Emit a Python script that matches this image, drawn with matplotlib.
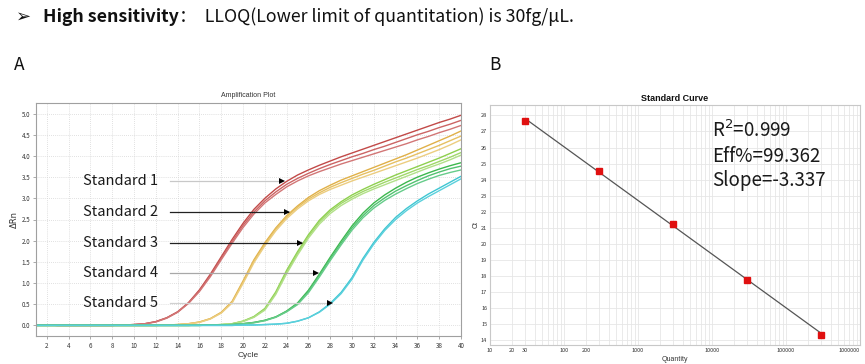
import numpy as np
import matplotlib
matplotlib.use("Agg")
import matplotlib.pyplot as plt
from matplotlib.ticker import FixedLocator, NullFormatter, LogLocator

plt.rcParams['font.family'] = ['Noto Sans CJK SC', 'DejaVu Sans']

# ---------------- data ----------------
cycles = list(range(1, 41))

s1_a = [0.01,0.01,0.0,0.0,0.0,0.0,0.0,0.0,0.01,0.02,0.04,0.09,0.18,0.32,0.54,0.84,1.21,1.62,2.03,2.41,2.74,3.00,3.22,3.40,3.55,3.67,3.78,3.88,3.98,4.07,4.16,4.25,4.34,4.43,4.52,4.61,4.70,4.79,4.87,4.96]
s1_b = [0.01,0.01,0.0,0.0,0.0,0.0,0.0,0.0,0.01,0.02,0.04,0.09,0.18,0.32,0.53,0.82,1.18,1.58,1.98,2.36,2.68,2.94,3.15,3.33,3.47,3.59,3.70,3.80,3.89,3.98,4.06,4.15,4.23,4.32,4.41,4.50,4.58,4.67,4.75,4.84]
s1_c = [0.01,0.01,0.0,0.0,0.0,0.0,0.0,0.0,0.01,0.02,0.04,0.08,0.17,0.31,0.52,0.80,1.15,1.55,1.94,2.31,2.63,2.89,3.09,3.27,3.41,3.53,3.63,3.72,3.81,3.89,3.97,4.05,4.13,4.21,4.29,4.38,4.46,4.55,4.63,4.72]

s2_a = [0.0,0.0,0.0,0.0,0.0,0.0,0.0,0.0,0.0,0.0,0.0,0.0,0.01,0.02,0.04,0.08,0.16,0.31,0.57,1.05,1.55,1.95,2.30,2.59,2.82,3.02,3.18,3.31,3.43,3.53,3.63,3.73,3.83,3.93,4.03,4.14,4.25,4.36,4.47,4.59]
s2_b = [0.0,0.0,0.0,0.0,0.0,0.0,0.0,0.0,0.0,0.0,0.0,0.0,0.01,0.02,0.04,0.08,0.16,0.30,0.55,1.02,1.52,1.91,2.27,2.56,2.79,2.98,3.13,3.26,3.37,3.47,3.57,3.66,3.76,3.86,3.95,4.05,4.15,4.25,4.36,4.47]
s2_c = [0.0,0.0,0.0,0.0,0.0,0.0,0.0,0.0,0.0,0.0,0.0,0.0,0.01,0.02,0.04,0.07,0.15,0.29,0.53,0.99,1.48,1.88,2.23,2.52,2.75,2.94,3.09,3.21,3.31,3.41,3.50,3.59,3.68,3.77,3.86,3.95,4.05,4.15,4.26,4.38]

s3_a = [0.0,0.0,0.0,0.0,0.0,0.0,0.0,0.0,0.0,0.0,0.0,0.0,0.0,0.0,0.0,0.01,0.01,0.02,0.04,0.10,0.21,0.40,0.79,1.30,1.74,2.14,2.48,2.73,2.92,3.08,3.21,3.33,3.44,3.55,3.65,3.75,3.85,3.95,4.06,4.17]
s3_b = [0.0,0.0,0.0,0.0,0.0,0.0,0.0,0.0,0.0,0.0,0.0,0.0,0.0,0.0,0.0,0.01,0.01,0.02,0.04,0.10,0.20,0.38,0.76,1.26,1.70,2.10,2.44,2.69,2.88,3.03,3.16,3.27,3.38,3.48,3.58,3.68,3.77,3.87,3.97,4.08]
s3_c = [0.0,0.0,0.0,0.0,0.0,0.0,0.0,0.0,0.0,0.0,0.0,0.0,0.0,0.0,0.0,0.01,0.01,0.02,0.04,0.09,0.19,0.36,0.73,1.22,1.66,2.06,2.39,2.64,2.83,2.98,3.11,3.22,3.32,3.42,3.52,3.62,3.72,3.81,3.91,4.02]

s4_a = [0.0,0.0,0.0,0.0,0.0,0.0,0.0,0.0,0.0,0.0,0.0,0.0,0.0,0.0,0.0,0.0,0.01,0.01,0.02,0.04,0.07,0.12,0.20,0.34,0.53,0.83,1.21,1.61,1.99,2.35,2.65,2.89,3.08,3.24,3.38,3.50,3.60,3.69,3.77,3.84]
s4_b = [0.0,0.0,0.0,0.0,0.0,0.0,0.0,0.0,0.0,0.0,0.0,0.0,0.0,0.0,0.0,0.0,0.01,0.01,0.02,0.04,0.07,0.12,0.20,0.33,0.51,0.80,1.18,1.57,1.94,2.30,2.59,2.83,3.01,3.17,3.30,3.42,3.53,3.62,3.70,3.76]
s4_c = [0.0,0.0,0.0,0.0,0.0,0.0,0.0,0.0,0.0,0.0,0.0,0.0,0.0,0.0,0.0,0.0,0.01,0.01,0.02,0.04,0.06,0.11,0.19,0.32,0.49,0.77,1.14,1.53,1.90,2.25,2.54,2.77,2.95,3.10,3.23,3.35,3.45,3.54,3.61,3.67]

s5_a = [0.0,0.0,0.0,0.0,0.0,0.0,0.0,0.0,0.0,0.0,0.0,0.0,0.0,0.0,0.0,0.0,0.0,0.0,0.0,0.01,0.01,0.02,0.03,0.05,0.10,0.18,0.32,0.52,0.78,1.13,1.58,1.96,2.28,2.55,2.76,2.94,3.10,3.24,3.38,3.52]
s5_b = [0.0,0.0,0.0,0.0,0.0,0.0,0.0,0.0,0.0,0.0,0.0,0.0,0.0,0.0,0.0,0.0,0.0,0.0,0.0,0.01,0.01,0.02,0.03,0.05,0.10,0.18,0.31,0.50,0.75,1.09,1.54,1.92,2.24,2.50,2.71,2.89,3.04,3.18,3.32,3.46]

quantity = [30, 300, 3000, 30000, 300000]
ct_values = [27.67, 24.55, 21.22, 17.76, 14.35]

std_labels = ["Standard 1", "Standard 2", "Standard 3", "Standard 4", "Standard 5"]
label_levels = [3.40, 2.67, 1.95, 1.23, 0.53]
arrow_tips = [23.9, 24.4, 25.6, 27.0, 28.3]
arrow_colors = ["#c8c8c8", "#222222", "#222222", "#a8a8a8", "#d0d0d0"]

x_ticks_a = list(range(2, 41, 2))
y_ticks_a = [0.0, 0.5, 1.0, 1.5, 2.0, 2.5, 3.0, 3.5, 4.0, 4.5, 5.0]
y_ticks_b = list(range(14, 29))
x_ticks_b = [10, 20, 30, 100, 200, 1000, 10000, 100000, 1000000]

stats_text = ["R$^2$=0.999", "Eff%=99.362", "Slope=-3.337"]

# ---------------- figure ----------------
W, H = 865, 364
fig = plt.figure(figsize=(W / 100, H / 100), dpi=100)

def fx(px):
    return px / W

def fy(py):
    return 1 - py / H

# header
fig.text(fx(16), fy(17), "\u27a2", fontsize=13, family=['DejaVu Sans'], fontweight='bold',
         va='center', ha='left', color='#111111')
t1 = fig.text(fx(43), fy(17), "High sensitivity", fontsize=12.8, fontweight='bold', va='center', ha='left', color='#111111')
fig.canvas.draw()
bb = t1.get_window_extent()
x_after = bb.x1
fig.text(x_after / W, fy(17), "：  LLOQ(Lower limit of quantitation) is 30fg/μL.", fontsize=12.8,
         va='center', ha='left', color='#111111')
fig.text(fx(14), fy(65), "A", fontsize=12.5, va='center', ha='left', color='#111111')
fig.text(fx(489), fy(65), "B", fontsize=12.5, va='center', ha='left', color='#111111')

# ---------------- panel A ----------------
axA = fig.add_axes([fx(36), fy(336), fx(461) - fx(36), fy(103) - fy(336)])
groups = [
    ([s1_a, s1_b, s1_c], ['#c24a48', '#cc6464', '#d27676']),
    ([s2_a, s2_b, s2_c], ['#e0b048', '#e6c062', '#eccd80']),
    ([s3_a, s3_b, s3_c], ['#8ed04e', '#a0d86a', '#b2e088']),
    ([s4_a, s4_b, s4_c], ['#3cb84e', '#52c270', '#66cc8a']),
    ([s5_a, s5_b], ['#3ec6d2', '#5ad0dc']),
]
for reps, cols in groups:
    for vals, col in zip(reps, cols):
        axA.plot(cycles, vals, color=col, lw=1.0, solid_capstyle='round', solid_joinstyle='round')

axA.set_xlim(1, 40)
axA.set_ylim(-0.25, 5.25)
axA.set_xticks(x_ticks_a)
axA.set_yticks(y_ticks_a)
axA.set_yticklabels([f"{v:.1f}" for v in y_ticks_a])
axA.tick_params(axis='both', labelsize=4.5, length=2, width=0.5, color='#888888', labelcolor='#333333', pad=2)
axA.grid(True, linestyle=(0, (1, 1.5)), color='#d6d6d6', lw=0.6)
for s in axA.spines.values():
    s.set_color('#a0a0a0')
    s.set_linewidth(0.8)
axA.set_title("Amplification Plot", fontsize=5, color='#333333', pad=4, family=['Liberation Sans'])
axA.set_xlabel("Cycle", fontsize=6, color='#333333', labelpad=2, family=['Liberation Sans'])
axA.set_ylabel("\u0394Rn", fontsize=6, color='#333333', labelpad=2, family=['DejaVu Sans'])

for lab, lev, tip, col in zip(std_labels, label_levels, arrow_tips, arrow_colors):
    axA.text(5.3, lev, lab, fontsize=10.5, va='center', ha='left', color='#1a1a1a')
    axA.plot([13.33, tip - 0.25], [lev, lev], color=col, lw=0.9)
    axA.plot(tip - 0.35, lev, marker='>', color='black', ms=4.5, mew=0)

# ---------------- panel B ----------------
axB = fig.add_axes([fx(490), fy(345), fx(860) - fx(490), fy(105) - fy(345)])
axB.set_xscale('log')
axB.set_xlim(10, 1000000)
axB.set_ylim(13.7, 28.65)
coef = np.polyfit(np.log10(quantity), ct_values, 1)
xl = np.array([quantity[0], quantity[-1]])
axB.plot(xl, coef[0] * np.log10(xl) + coef[1], color='#555555', lw=0.9, zorder=2)
axB.plot(quantity, ct_values, linestyle='none', marker='s', ms=5, color='#e01010', mec='#e01010', zorder=3)

axB.xaxis.set_major_locator(FixedLocator(x_ticks_b))
xt_labels = axB.set_xticklabels([str(v) for v in x_ticks_b])
xt_labels[-1].set_horizontalalignment('right')
axB.xaxis.set_minor_locator(LogLocator(base=10, subs=np.arange(2, 10), numticks=20))
axB.xaxis.set_minor_formatter(NullFormatter())
axB.set_yticks(y_ticks_b)
axB.tick_params(axis='both', which='both', labelsize=4, length=0, labelcolor='#333333', pad=2)
axB.grid(True, which='both', axis='x', color='#e6e6e6', lw=0.6)
axB.grid(True, which='major', axis='y', color='#e6e6e6', lw=0.6)
axB.set_axisbelow(True)
for s in axB.spines.values():
    s.set_color('#c8c8c8')
    s.set_linewidth(0.8)
axB.set_title("Standard Curve", fontsize=6.5, fontweight='bold', color='#111111', pad=3, family=['Liberation Sans'])
axB.set_xlabel("Quantity", fontsize=5, color='#333333', labelpad=2, family=['Liberation Sans'])
axB.set_ylabel("Ct", fontsize=5, color='#333333', labelpad=1, family=['Liberation Sans'])

for i, t in enumerate(stats_text):
    fig.text(fx(712), fy(131.7 + 24.3 * i), t, fontsize=13.5, va='center', ha='left', color='#1a1a1a')

fig.savefig("out.png", dpi=100)
